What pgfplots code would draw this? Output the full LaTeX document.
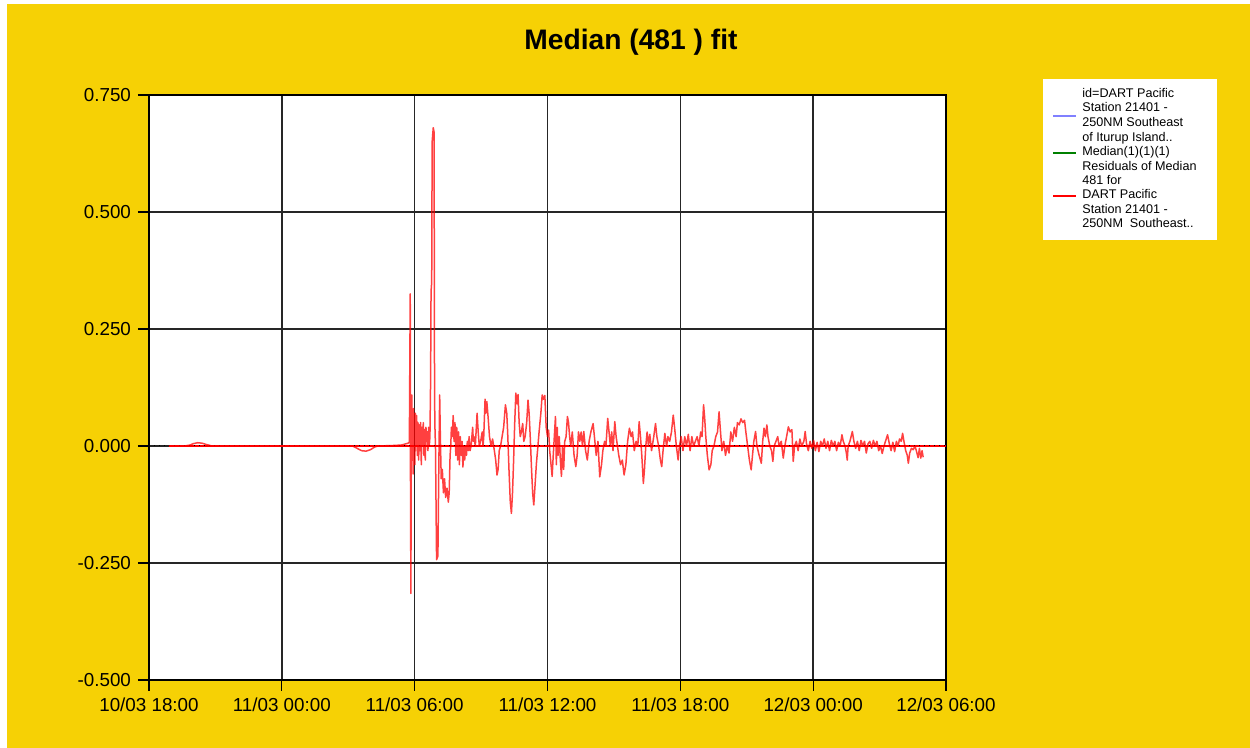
\documentclass[border=0pt]{standalone}
\usepackage{fontspec}
\setmainfont{Liberation Sans}
\usepackage{pgfplots}
\pgfplotsset{compat=1.18}
\definecolor{bgyellow}{RGB}{246,209,5}
\definecolor{legblue}{RGB}{128,128,255}
\definecolor{leggreen}{RGB}{0,128,0}
\newcommand{\lt}[1]{\makebox[63pt][l]{#1}}
\begin{document}
\begin{tikzpicture}
\path[use as bounding box, fill=white] (0,0) rectangle (625pt,374pt);
\fill[bgyellow] (3.5pt,0) rectangle (625pt,372pt);
\node[font=\fontsize{14.1}{17}\selectfont\bfseries] at (315.5pt,353pt) {Median (481 ) fit};
\begin{axis}[
  at={(74.5pt,34pt)}, anchor=south west,
  scale only axis, width=398.5pt, height=292.5pt,
  xmin=0, xmax=36, ymin=-0.5, ymax=0.75,
  xtick={0,6,12,18,24,30,36},
  xticklabels={10/03 18:00,11/03 00:00,11/03 06:00,11/03 12:00,11/03 18:00,12/03 00:00,12/03 06:00},
  ytick={-0.5,-0.25,0,0.25,0.5,0.75},
  yticklabels={-0.500,-0.250,0.000,0.250,0.500,0.750},
  grid=major, major grid style={black!85, line width=0.7pt},
  tick align=outside, tick pos=left, major tick length=5.5pt,
  tick style={black, line width=0.6pt},
  axis line style={black, line width=0.7pt},
  axis background/.style={fill=white},
  tick label style={font=\fontsize{9.4}{11}\selectfont},
  legend cell align=left,
  legend image code/.code={\draw[#1] (0pt,0pt) -- (11.5pt,0pt);},
  legend style={at={(1.1217,1.0274)}, anchor=north west, draw=none, fill=white,
    inner xsep=4.5pt, inner ysep=3.8pt, row sep=0pt,
    font=\fontsize{6.3}{7.2}\selectfont,
    nodes={inner sep=0pt, text height=5.04pt, text depth=2.16pt},
    /tikz/every odd column/.append style={column sep=2.5pt}},
]
\addlegendimage{empty legend}
\addlegendentry{\lt{id=DART Pacific}}
\addlegendimage{legend image code/.code={\draw[legblue, line width=1pt] (0pt,-3.6pt) -- (11.5pt,-3.6pt);}}
\addlegendentry{\lt{Station 21401 -}}
\addlegendimage{empty legend}
\addlegendentry{\lt{250NM Southeast}}
\addlegendimage{empty legend}
\addlegendentry{\lt{of Iturup Island..}}
\addlegendimage{leggreen, line width=1pt}
\addlegendentry{\lt{Median(1)(1)(1)}}
\addlegendimage{empty legend}
\addlegendentry{\lt{Residuals of Median}}
\addlegendimage{empty legend}
\addlegendentry{\lt{481 for}}
\addlegendimage{red, line width=1pt}
\addlegendentry{\lt{DART Pacific}}
\addlegendimage{empty legend}
\addlegendentry{\lt{Station 21401 -}}
\addlegendimage{empty legend}
\addlegendentry{\lt{250NM\ \ Southeast..}}
\addplot[red, line width=0.6pt, forget plot] coordinates {(0.9,0) (36,0)};
\addplot[black, line width=0.5pt, dash pattern=on 0.5pt off 2pt, forget plot] coordinates {(0,0) (36,0)};
\addplot[red, line width=0.75pt, opacity=0.75, line join=round, forget plot] coordinates {
(0.9,0) (1.6,0) (1.85,0.002) (2.0,0.005) (2.2,0.007) (2.4,0.006) (2.6,0.003) (2.85,0)
(9.2,0) (9.4,-0.005) (9.6,-0.010) (9.8,-0.011) (10.0,-0.008) (10.2,-0.002) (10.35,0)
(11.0,0.001) (11.4,0.002) (11.7,0.006) (11.76,0.008)
(11.80,0.325) (11.81,-0.05) (11.83,-0.315) (11.85,0.10) (11.87,0.109) (11.89,-0.03)
(11.91,0.07) (11.93,-0.06) (11.95,0.08) (11.97,-0.02) (11.99,0.06) (12.01,-0.04)
(12.03,0.07) (12.06,0.0) (12.09,0.065) (12.12,-0.02) (12.15,0.05) (12.18,-0.03)
(12.21,0.045) (12.24,-0.01) (12.27,0.05) (12.30,-0.04) (12.33,0.04) (12.36,0.0)
(12.39,0.05) (12.42,-0.02) (12.45,0.035) (12.48,-0.03) (12.51,0.04) (12.54,0.01)
(12.57,0.03) (12.60,-0.01) (12.63,0.04) (12.66,0.0) (12.69,0.02)
(12.72,0.14) (12.74,0.33) (12.77,0.35) (12.79,0.65) (12.84,0.68) (12.88,0.67)
(12.89,0.23) (12.91,0.05) (12.94,0.0) (12.99,-0.243) (13.05,-0.235) (13.09,-0.05)
(13.13,0.109) (13.16,0.02) (13.20,-0.07) (13.25,-0.05) (13.30,-0.10) (13.35,-0.07)
(13.40,-0.11) (13.46,-0.09) (13.52,-0.12) (13.56,-0.10) (13.60,-0.02)
(13.63,0.0) (13.66,0.04) (13.70,0.02) (13.74,0.065) (13.78,0.01) (13.82,0.05)
(13.86,-0.02) (13.90,0.04) (13.94,-0.03) (13.98,0.03) (14.02,-0.04) (14.06,0.02)
(14.10,-0.02) (14.14,0.01) (14.18,-0.045) (14.22,0.0) (14.26,-0.03) (14.30,0.0)
(14.34,-0.02) (14.38,0.01) (14.42,-0.01) (14.46,0.02) (14.50,-0.01) (14.55,0.0) (14.62,0.04)
(14.65,0.01) (14.68,0.02) (14.74,0.0) (14.82,0.07) (14.87,0.03) (14.92,0.0) (14.98,0.01)
(15.05,0.03) (15.09,0.0) (15.12,0.02) (15.18,0.10) (15.22,0.07) (15.26,0.095) (15.32,0.06)
(15.38,0.02) (15.45,0.0) (15.52,0.015) (15.60,-0.01) (15.66,-0.03) (15.72,-0.062)
(15.77,-0.05) (15.82,-0.01) (15.88,0.0) (15.95,0.02) (16.02,0.04) (16.10,0.088)
(16.16,0.07) (16.20,0.03) (16.26,-0.05) (16.32,-0.12) (16.37,-0.144) (16.42,-0.10)
(16.47,-0.03) (16.52,0.05) (16.57,0.113) (16.62,0.09) (16.67,0.11) (16.72,0.05)
(16.77,0.02) (16.82,0.03) (16.88,0.048) (16.93,0.01) (16.99,0.02) (17.06,0.05)
(17.12,0.098) (17.17,0.07) (17.22,0.02) (17.28,-0.05) (17.33,-0.10) (17.38,-0.126)
(17.43,-0.09) (17.50,-0.037) (17.55,-0.01) (17.62,0.03) (17.70,0.07) (17.76,0.109)
(17.82,0.10) (17.88,0.108) (17.94,0.04) (18.00,0.02) (18.05,0.034) (18.10,-0.01)
(18.16,-0.04) (18.21,-0.065) (18.26,-0.02) (18.32,0.03) (18.36,0.063) (18.40,-0.04)
(18.44,0.04) (18.48,-0.02) (18.53,0.02) (18.58,-0.03) (18.63,-0.065) (18.68,0.0)
(18.73,-0.05) (18.78,0.01) (18.84,0.02) (18.90,0.063) (18.95,0.05) (19.00,0.02)
(19.05,0.0) (19.12,0.03) (19.20,-0.02) (19.28,-0.044) (19.34,-0.02) (19.40,0.03)
(19.46,0.01) (19.52,0.03) (19.58,0.0) (19.64,0.031) (19.72,-0.01) (19.80,-0.03)
(19.88,0.01) (19.96,0.03) (20.06,0.048) (20.12,0.02) (20.20,-0.02) (20.28,0.01)
(20.36,-0.066) (20.44,-0.04) (20.50,-0.01) (20.58,0.01) (20.64,0.0) (20.72,0.059)
(20.78,0.03) (20.84,0.0) (20.90,0.03) (20.96,-0.01) (21.04,0.052) (21.10,0.02)
(21.16,0.0) (21.22,-0.02) (21.30,-0.04) (21.38,-0.03) (21.46,-0.062) (21.54,-0.04)
(21.62,0.01) (21.70,0.038) (21.78,0.02) (21.84,0.03) (21.92,-0.01) (22.00,0.01)
(22.08,0.0) (22.14,0.052) (22.20,0.02) (22.26,-0.02) (22.33,-0.08) (22.38,-0.05)
(22.44,0.0) (22.50,0.03) (22.56,0.0) (22.62,0.025) (22.70,-0.01) (22.80,0.02)
(22.88,0.048) (22.94,0.02) (23.02,0.0) (23.10,-0.03) (23.16,-0.044) (23.22,-0.01)
(23.30,0.027) (23.38,0.0) (23.44,0.02) (23.52,0.01) (23.60,0.03) (23.68,0.066)
(23.74,0.04) (23.82,0.0) (23.90,-0.03) (23.96,0.0) (24.04,0.02) (24.12,-0.01)
(24.20,0.02) (24.28,0.0) (24.36,0.025) (24.44,-0.01) (24.52,0.02) (24.60,0.0)
(24.68,0.01) (24.76,0.02) (24.84,0.0) (24.92,0.03) (24.98,0.02) (25.05,0.088)
(25.10,0.06) (25.15,0.02) (25.22,-0.02) (25.30,-0.051) (25.38,-0.04) (25.44,-0.01)
(25.52,0.0) (25.60,0.02) (25.68,0.03) (25.75,0.073) (25.80,0.04) (25.88,-0.01)
(25.96,0.01) (26.04,-0.02) (26.12,0.0) (26.20,-0.015) (26.28,0.03) (26.36,0.01)
(26.44,0.04) (26.52,0.02) (26.58,0.05) (26.66,0.045) (26.74,0.058) (26.82,0.05)
(26.90,0.055) (26.96,0.03) (27.04,0.0) (27.12,-0.03) (27.20,-0.051) (27.26,-0.02)
(27.32,0.01) (27.40,0.031) (27.46,0.0) (27.56,-0.02) (27.66,-0.037) (27.72,0.01)
(27.78,0.038) (27.84,0.02) (27.91,0.045) (27.96,0.02) (28.04,0.0) (28.12,-0.01)
(28.18,-0.033) (28.24,0.0) (28.32,0.01) (28.40,0.02) (28.46,0.0) (28.56,0.01)
(28.65,-0.026) (28.72,0.0) (28.80,0.02) (28.88,0.041) (28.96,0.03) (29.04,0.035)
(29.10,-0.033) (29.16,0.0) (29.24,0.01) (29.32,-0.01) (29.40,0.015) (29.48,0.0)
(29.58,0.01) (29.64,0.031) (29.70,0.005) (29.78,-0.01) (29.86,0.01) (29.94,-0.005)
(30.02,0.012) (30.10,-0.01) (30.18,0.008) (30.26,-0.012) (30.34,0.01) (30.42,0.0)
(30.50,0.015) (30.58,-0.005) (30.66,0.01) (30.74,-0.01) (30.82,0.012) (30.90,0.0)
(30.98,0.01) (31.06,-0.01) (31.14,0.008) (31.22,0.0) (31.30,0.024) (31.36,0.01)
(31.44,0.0) (31.50,-0.015) (31.54,-0.03) (31.58,0.0) (31.66,0.01) (31.77,0.031)
(31.84,0.01) (31.92,-0.005) (32.00,0.01) (32.08,-0.01) (32.16,0.012) (32.24,0.0)
(32.32,0.01) (32.40,-0.015) (32.48,0.005) (32.56,0.01) (32.64,-0.005) (32.72,0.012)
(32.80,0.0) (32.88,0.01) (32.96,-0.01) (33.04,0.0) (33.12,-0.016) (33.20,0.0)
(33.28,0.012) (33.36,0.024) (33.44,0.005) (33.52,-0.01) (33.60,0.008) (33.68,-0.012)
(33.76,0.01) (33.84,0.0) (33.90,0.015) (33.98,0.01) (34.04,0.027) (34.10,0.01)
(34.18,-0.01) (34.25,-0.02) (34.30,-0.037) (34.36,-0.015) (34.44,-0.005) (34.52,-0.008)
(34.60,0.0) (34.66,-0.01) (34.74,-0.025) (34.80,-0.005) (34.86,-0.026) (34.92,-0.01)
(34.97,-0.024)
};
\end{axis}
\end{tikzpicture}
\end{document}
